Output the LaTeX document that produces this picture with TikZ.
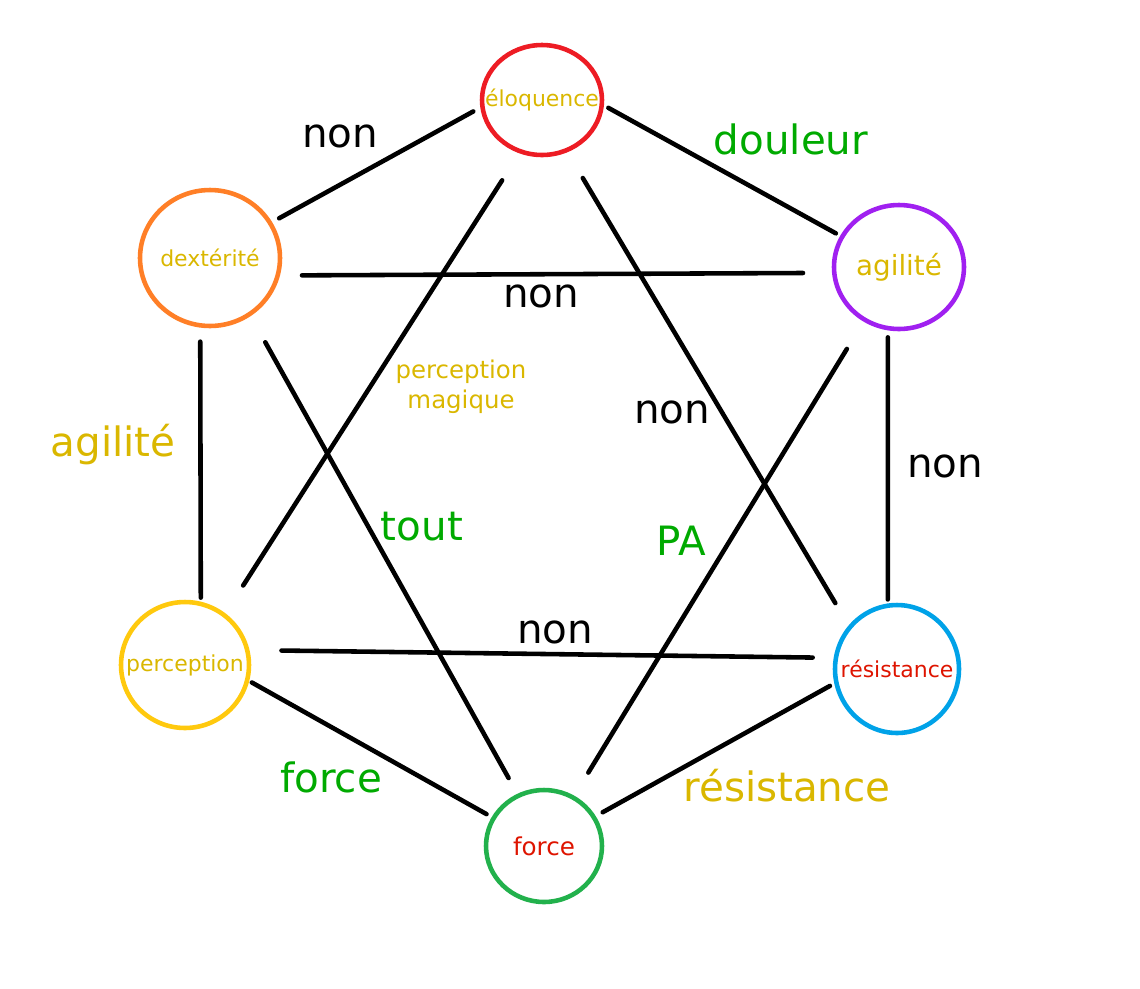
\documentclass[tikz,border=0pt]{standalone}
\usepackage{fontspec}
\setmainfont{DejaVu Sans}
\usetikzlibrary{shapes.geometric}

\definecolor{ringred}{RGB}{237,28,36}
\definecolor{ringorange}{RGB}{255,127,39}
\definecolor{ringpurple}{RGB}{160,32,240}
\definecolor{ringyellow}{RGB}{255,201,14}
\definecolor{ringblue}{RGB}{0,162,232}
\definecolor{ringgreen}{RGB}{34,177,76}
\definecolor{txtyellow}{RGB}{218,183,0}
\definecolor{txtgreen}{RGB}{0,170,0}
\definecolor{txtred}{RGB}{222,20,0}

\tikzset{every picture/.style={line width=2.6pt}}
\tikzset{
  ring/.style={ellipse, draw=#1, inner sep=0pt},
  inlbl/.style={font=\fontsize{12.5}{15}\selectfont},
  tag/.style={font=\fontsize{23}{27}\selectfont},
  link/.style={draw=black, line cap=round},
  cut/.style 2 args={shorten <=#1*0.02cm, shorten >=#2*0.02cm}
}

\begin{document}
\begin{tikzpicture}[x=0.02cm, y=-0.02cm]
        \useasboundingbox (0,0) rectangle (1140,988);
        % the six qualities
        \node[ring=ringred, minimum width=2.4cm, minimum height=2.2cm,
              label={[inlbl, text=txtyellow]center:éloquence}] (elo) at (542,100) {};
        \node[ring=ringorange, minimum width=2.8cm, minimum height=2.72cm,
              label={[inlbl, text=txtyellow]center:dextérité}] (dex) at (210,258) {};
        \node[ring=ringpurple, minimum width=2.6cm, minimum height=2.48cm,
              label={[inlbl, text=txtyellow, font=\fontsize{15.8}{18}\selectfont]center:agilité}] (agi) at (899,267) {};
        \node[ring=ringyellow, minimum width=2.56cm, minimum height=2.52cm,
              label={[inlbl, text=txtyellow]center:perception}] (per) at (185,665) {};
        \node[ring=ringblue, minimum width=2.48cm, minimum height=2.56cm,
              label={[inlbl, text=txtred]center:résistance}] (res) at (897,669) {};
        \node[ring=ringgreen, minimum width=2.32cm, minimum height=2.24cm,
              label={[inlbl, text=txtred, font=\fontsize{14}{16}\selectfont]center:force}] (for) at (544,846) {};

        % connectors
        \draw[link, cut={8}{8}] (dex.30) -- (elo.-173);
        \draw[link, cut={5}{5}] (elo.-5) -- (agi.152);
        \draw[link, cut={22}{29}] (dex.-14) -- (agi.-175);
        \draw[link, cut={14}{4}] (dex.-98) -- (per.76);
        \draw[link, cut={30}{18}] (dex.-55) -- (for.117);
        \draw[link, cut={32}{33}] (elo.-113) -- (per.52);
        \draw[link, cut={30}{26}] (elo.-64) -- (res.138);
        \draw[link, cut={7}{4}] (agi.-100) -- (res.98);
        \draw[link, cut={32}{27}] (agi.-123) -- (for.59);
        \draw[link, cut={32}{21}] (per.13) -- (res.170);
        \draw[link, cut={3}{6}] (per.-14) -- (for.151);
        \draw[link, cut={8}{5}] (for.30) -- (res.-167);

        % labels on the links
        \node[tag] (n1) at (340,136) {non};
        \node[tag, text=txtgreen] (douleur) at (791,139) {douleur};
        \node[tag] (n2) at (541,296) {non};
        \node[tag, text=txtyellow] (agil) at (113,445) {agilité};
        \node[text=txtyellow, align=center, font=\fontsize{13.9}{17}\selectfont] (pmag) at (461,387) {perception\\magique};
        \node[tag] (n3) at (672,412) {non};
        \node[tag] (n4) at (945,466) {non};
        \node[tag, text=txtgreen] (tout) at (422,527) {tout};
        \node[tag, text=txtgreen] (pa) at (681,541) {PA};
        \node[tag] (n5) at (555,632) {non};
        \node[tag, text=txtgreen] (forc) at (331,777) {force};
        \node[tag, text=txtyellow] (resi) at (787,786) {résistance};
    \end{tikzpicture}
\end{document}
